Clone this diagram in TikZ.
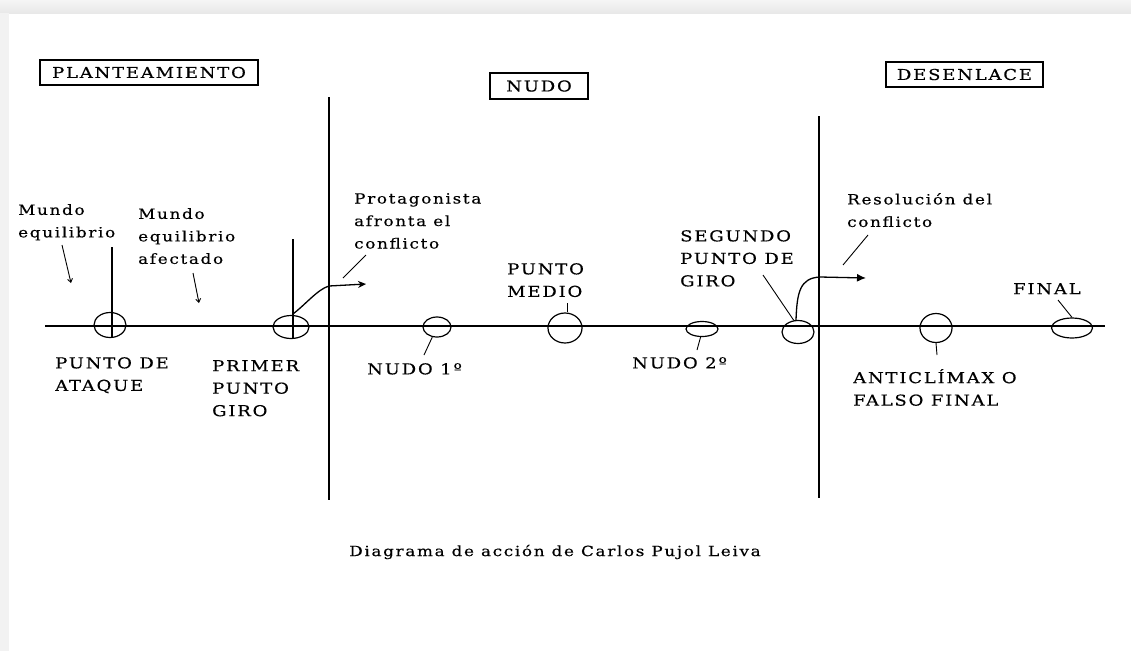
\documentclass[tikz,border=0pt]{standalone}
\usepackage{fontspec}
\setmainfont{DejaVu Serif}[FakeStretch=1.2,LetterSpace=12,FakeBold=0.4]
\usetikzlibrary{shapes.geometric,arrows.meta}
\tikzset{
  lbl/.style={font=\fontsize{14}{22.5}\selectfont, align=left, anchor=north west, inner sep=0pt},
  caplbl/.style={font=\fontsize{15}{22.5}\selectfont, align=left, anchor=north west, inner sep=0pt},
  titlebox/.style={draw, line width=1.4pt, inner sep=0pt, minimum height=25pt, font=\fontsize{15}{18}\selectfont},
  ring/.style={ellipse, draw, line width=1.2pt, inner sep=0pt},
  ln/.style={line width=1.3pt},
  lead/.style={line width=0.9pt},
  leadarrow/.style={line width=0.9pt, -{Straight Barb[length=3.5pt,width=5pt]}},
  turn/.style={line width=1.3pt, -{Stealth[length=8pt,width=7pt]}}
}
\begin{document}
\begin{tikzpicture}[x=1pt,y=-1pt]
\useasboundingbox (0,0) rectangle (1131,651);
\fill[white] (0,0) rectangle (1131,651);
% soft frame shadow
\shade[top color=black!4, bottom color=black!9] (0,0) rectangle (1131,13);
\fill[black!5] (0,13) rectangle (9,651);

% title boxes
\node[titlebox, minimum width=218pt] (plan) at (149,72.5) {PLANTEAMIENTO};
\node[titlebox, minimum width=98pt, minimum height=26pt] (nudo) at (539,86) {NUDO};
\node[titlebox, minimum width=157pt] (desen) at (964.5,74.5) {DESENLACE};

% axis and act dividers
\coordinate (axL) at (45,326);
\coordinate (axR) at (1105,326);
\draw[ln] (axL) -- (axR);
\coordinate (v1t) at (329,97);
\coordinate (v1b) at (329,500);
\coordinate (v2t) at (819,116);
\coordinate (v2b) at (819,498);
\draw[ln] (v1t) -- (v1b);
\draw[ln] (v2t) -- (v2b);

% points on the axis
\node[ring, minimum width=32pt, minimum height=25pt] (c1) at (110,325) {};
\node[ring, minimum width=36pt, minimum height=23pt] (c2) at (291,327) {};
\node[ring, minimum width=28pt, minimum height=20pt] (c3) at (437,327) {};
\node[ring, minimum width=34pt, minimum height=30pt] (c4) at (565,328) {};
\node[ring, minimum width=32pt, minimum height=15pt] (c5) at (702,329) {};
\node[ring, minimum width=32pt, minimum height=23pt] (c6) at (798,332) {};
\node[ring, minimum width=32pt, minimum height=29pt] (c7) at (936,328) {};
\node[ring, minimum width=41pt, minimum height=20pt] (c8) at (1072,328) {};

% short verticals through first two points
\coordinate (s1t) at (112,247); \coordinate (s1b) at (112,337);
\coordinate (s2t) at (293,239); \coordinate (s2b) at (293,339);
\draw[ln] (s1t) -- (s1b);
\draw[ln] (s2t) -- (s2b);

% labels
\node[lbl] (mundo1) at (18,204) {Mundo\\equilibrio};
\node[lbl] (mundo2) at (138,208) {Mundo\\equilibrio\\afectado};
\node[caplbl] (ataque) at (55,357) {PUNTO DE\\ATAQUE};
\node[caplbl] (primer) at (212,360) {PRIMER\\PUNTO\\GIRO};
\node[lbl] (prota) at (354,193) {Protagonista\\afronta el\\conflicto};
\node[caplbl] (n1) at (367,363) {NUDO 1º};
\node[caplbl] (medio) at (507,263) {PUNTO\\MEDIO};
\node[caplbl] (n2) at (632,357) {NUDO 2º};
\node[caplbl] (segundo) at (680,230) {SEGUNDO\\PUNTO DE\\GIRO};
\node[lbl] (resol) at (847,193) {Resolución del\\conflicto};
\node[caplbl] (anti) at (853,369) {ANTICLÍMAX O\\FALSO FINAL};
\node[caplbl] (final) at (1013,283) {FINAL};
\node[font=\fontsize{14}{16}\selectfont, inner sep=0pt] (caption) at (555,552) {Diagrama de acción de Carlos Pujol Leiva};

% leader arrows for "Mundo" labels
\coordinate (m1a) at (62,245); \coordinate (m1b) at (71,283);
\coordinate (m2a) at (193,273); \coordinate (m2b) at (199,303);
\draw[leadarrow] (m1a) -- (m1b);
\draw[leadarrow] (m2a) -- (m2b);

% leader lines
\coordinate (l3) at (424,355);
\draw[lead] (c3.-115) -- (l3);
\coordinate (l4) at (567,303);
\draw[lead] (c4.north) ++(2,0) -- (l4);
\coordinate (l5) at (697,350);
\draw[lead] (c5.-100) -- (l5);
\coordinate (l6) at (763,275);
\draw[lead] (c6.110) -- (l6);
\coordinate (l7) at (937,355);
\draw[lead] (c7.south) -- (l7);
\coordinate (l8) at (1058,300);
\draw[lead] (c8.north) -- (l8);
\coordinate (pa) at (366,255); \coordinate (pb) at (343,278);
\draw[lead] (pa) -- (pb);
\coordinate (ra) at (868,235); \coordinate (rb) at (843,265);
\draw[lead] (ra) -- (rb);

% turning point arrows
\coordinate (t1) at (329,286);
\coordinate (t1e) at (366,284);
\draw[turn] (c2.north) ++(2,-1) .. controls (305,305) and (318,289) .. (t1) -- (t1e);
\coordinate (t2) at (820,277);
\coordinate (t2e) at (866,278);
\draw[turn, -{Latex[length=9pt,width=8pt]}] (c6.north) ++(-2,0) .. controls (797,292) and (800,278) .. (t2) -- (t2e);
\end{tikzpicture}
\end{document}
